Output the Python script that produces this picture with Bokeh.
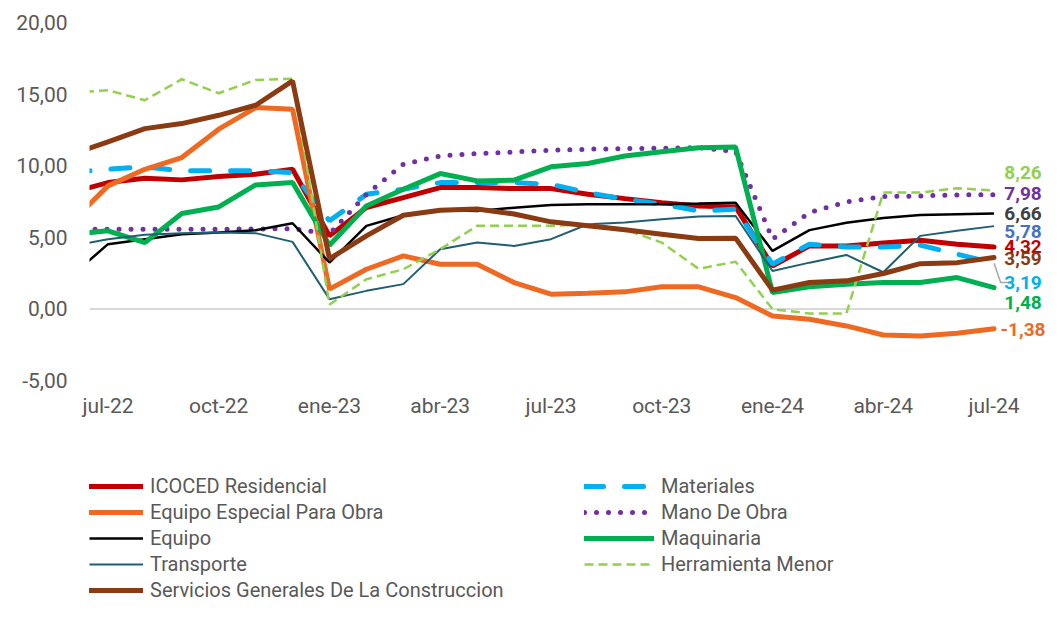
from bokeh.plotting import figure
from bokeh.layouts import column
from bokeh.models import Range1d, FixedTicker, Legend, LegendItem, Label
from bokeh.embed import file_html
from bokeh.resources import INLINE

# ---- data (monthly, jun-22 .. jul-24) ----
months = ["jun-22", "jul-22", "ago-22", "sep-22", "oct-22", "nov-22", "dic-22",
          "ene-23", "feb-23", "mar-23", "abr-23", "may-23", "jun-23", "jul-23",
          "ago-23", "sep-23", "oct-23", "nov-23", "dic-23",
          "ene-24", "feb-24", "mar-24", "abr-24", "may-24", "jun-24", "jul-24"]
x_idx = list(range(-1, 25))

icoced = [8.12, 8.82, 9.12, 9.01, 9.24, 9.40, 9.75, 5.10, 7.08, 7.77, 8.47, 8.47, 8.40,
          8.40, 8.00, 7.70, 7.42, 7.19, 7.12, 3.00, 4.40, 4.40, 4.60, 4.80, 4.52, 4.32]
materiales = [9.53, 9.75, 9.92, 9.64, 9.64, 9.64, 9.52, 6.15, 8.00, 8.36, 8.82, 8.82, 8.82,
              8.70, 8.12, 7.66, 7.31, 6.84, 6.96, 3.12, 4.52, 4.33, 4.33, 4.45, 3.82, 3.19]
especial = [6.03, 8.59, 9.75, 10.57, 12.55, 14.06, 13.94, 1.38, 2.77, 3.70, 3.12, 3.12, 1.84,
            1.03, 1.10, 1.19, 1.54, 1.54, 0.79, -0.49, -0.72, -1.19, -1.82, -1.89, -1.70, -1.38]
mano_obra = [5.56, 5.56, 5.56, 5.56, 5.56, 5.58, 5.60, 5.25, 8.00, 10.10, 10.68, 10.85, 10.96,
             11.08, 11.15, 11.20, 11.22, 11.26, 11.00, 4.87, 6.73, 7.47, 7.84, 7.89, 7.96, 7.98]
equipo = [2.28, 4.52, 4.87, 5.22, 5.33, 5.49, 5.98, 3.24, 5.80, 6.54, 6.91, 6.84, 7.07,
          7.26, 7.31, 7.31, 7.31, 7.36, 7.42, 4.05, 5.50, 6.02, 6.35, 6.56, 6.61, 6.66]
maquinaria = [5.21, 5.45, 4.63, 6.66, 7.12, 8.66, 8.82, 4.45, 7.19, 8.36, 9.45, 8.94, 8.99,
              9.92, 10.15, 10.68, 10.98, 11.25, 11.30, 1.14, 1.54, 1.72, 1.84, 1.84, 2.19, 1.48]
transporte = [4.39, 4.87, 5.17, 5.29, 5.33, 5.29, 4.68, 0.68, 1.26, 1.73, 4.17, 4.63, 4.40,
              4.87, 5.91, 6.03, 6.26, 6.45, 6.49, 2.65, 3.23, 3.77, 2.56, 5.10, 5.45, 5.78]
herramienta = [15.09, 15.27, 14.57, 16.04, 15.06, 15.99, 16.08, 0.30, 2.07, 2.77, 4.17, 5.80, 5.80,
               5.80, 5.91, 5.56, 4.63, 2.80, 3.30, -0.02, -0.32, -0.32, 8.12, 8.12, 8.43, 8.26]
servicios = [10.78, 11.66, 12.59, 12.94, 13.52, 14.22, 15.92, 3.50, 5.10, 6.54, 6.89, 6.98, 6.63,
             6.08, 5.80, 5.52, 5.22, 4.91, 4.94, 1.31, 1.84, 1.96, 2.47, 3.16, 3.23, 3.59]

y_ticks = [-5, 0, 5, 10, 15, 20]
x_ticks = [0, 3, 6, 9, 12, 15, 18, 21, 24]

# ---- styles ----
FONT = "Roboto"
GREY = "#595959"
series = [
    ("ICOCED Residencial", icoced, dict(line_color="#C00000", line_width=5, line_cap="round"), "#C00000"),
    ("Materiales", materiales, dict(line_color="#00B0F0", line_width=5, line_dash="19 21", line_cap="round"), "#00B0F0"),
    ("Equipo Especial Para Obra", especial, dict(line_color="#EE6A22", line_width=5, line_cap="round"), "#EE6A22"),
    ("Mano De Obra", mano_obra, dict(line_color="#7030A0", line_width=5, line_dash="0 12", line_cap="round"), "#7030A0"),
    ("Equipo", equipo, dict(line_color="#000000", line_width=2.5), "#404040"),
    ("Maquinaria", maquinaria, dict(line_color="#00B050", line_width=5, line_cap="round"), "#00B050"),
    ("Transporte", transporte, dict(line_color="#1F5F70", line_width=2), "#4472C4"),
    ("Herramienta Menor", herramienta, dict(line_color="#92D050", line_width=2.5, line_dash="9 5"), "#92D050"),
    ("Servicios Generales De La Construccion", servicios, dict(line_color="#8A3B12", line_width=5, line_cap="round"), "#8A3B12"),
]
# vertical placement (data units) of the end-of-line value labels
end_label_y = {"Herramienta Menor": 9.53, "Mano De Obra": 8.06, "Equipo": 6.66,
               "Transporte": 5.41, "ICOCED Residencial": 4.36,
               "Servicios Generales De La Construccion": 3.52, "Materiales": 1.84,
               "Maquinaria": 0.45, "Equipo Especial Para Obra": -1.44}
label_order = ["ICOCED Residencial", "Servicios Generales De La Construccion", "Herramienta Menor",
               "Mano De Obra", "Equipo", "Transporte", "Materiales", "Maquinaria",
               "Equipo Especial Para Obra"]

W = 1045
PX_PER_MONTH = 36.92
x_start = x_idx[1] - 0.5
x_end = x_idx[-1] + 0.5
p = figure(width=W, height=440, output_backend="svg", toolbar_location=None,
           x_range=Range1d(x_start, x_end + 33 / PX_PER_MONTH), y_range=Range1d(-5, 20),
           min_border_left=89, min_border_right=0, min_border_top=22, min_border_bottom=60,
           background_fill_color="white", border_fill_color="white")
p.outline_line_color = None
p.grid.visible = False

p.xaxis.ticker = FixedTicker(ticks=x_ticks)
p.xaxis.major_label_overrides = {t: months[x_idx.index(t)] for t in x_ticks}
p.yaxis.ticker = FixedTicker(ticks=y_ticks)
p.yaxis.major_label_overrides = {t: f"{t:.2f}".replace(".", ",") for t in y_ticks}
for ax in p.axis:
    ax.axis_line_color = None
    ax.major_tick_line_color = None
    ax.minor_tick_line_color = None
    ax.major_tick_out = 0
    ax.major_tick_in = 0
    ax.major_label_text_font = FONT
    ax.major_label_text_font_size = "21px"
    ax.major_label_text_color = GREY
p.yaxis.major_label_standoff = 22
p.xaxis.major_label_standoff = 13

# zero reference line across the plot area
p.segment(x0=[x_start], y0=[0], x1=[x_end], y1=[0], line_color="#D9D9D9", line_width=2)

for name, vals, style, _ in series:
    p.line(x_idx, vals, **style)

# leader line for the Materiales label
mat_last = materiales[-1]
p.line([x_idx[-1], x_idx[-1] + 0.18, x_end],
       [mat_last, end_label_y["Materiales"], end_label_y["Materiales"]],
       line_color="#A6A6A6", line_width=1.5)

# end labels
colors = {name: c for name, _, _, c in series}
values = {name: v for name, v, _, _ in series}
for name in label_order:
    txt = f"{values[name][-1]:.2f}".replace(".", ",")
    p.add_layout(Label(x=x_idx[-1], y=end_label_y[name], x_offset=29, text=txt,
                       text_align="center", text_baseline="middle",
                       text_font=FONT, text_font_size="19px", text_font_style="bold",
                       text_color=colors[name]))

# ---- legend panel (same series drawn off-view, only their legend swatches show) ----
LH = 162
pl = figure(width=W, height=LH, output_backend="svg", toolbar_location=None,
            x_range=Range1d(1000, 2000), y_range=Range1d(0, 1),
            x_axis_type=None, y_axis_type=None,
            min_border_left=0, min_border_right=0, min_border_top=0, min_border_bottom=0,
            background_fill_color="white", border_fill_color="white")
pl.outline_line_color = None
pl.grid.visible = False

leg_r = {}
for name, vals, style, _ in series:
    leg_r[name] = pl.line(x_idx, vals, **style)

col1 = ["ICOCED Residencial", "Equipo Especial Para Obra", "Equipo", "Transporte",
        "Servicios Generales De La Construccion"]
col2 = ["Materiales", "Mano De Obra", "Maquinaria", "Herramienta Menor"]

def make_legend(names, loc, gw):
    return Legend(items=[LegendItem(label=n, renderers=[leg_r[n]]) for n in names],
                  location=loc, orientation="vertical",
                  glyph_width=gw, glyph_height=24, label_height=24, label_standoff=7,
                  spacing=2, padding=0, margin=0,
                  border_line_color=None, background_fill_alpha=0,
                  label_text_font=FONT, label_text_font_size="20px", label_text_color=GREY)

pl.add_layout(make_legend(col1, (0, 0), 54))
pl.add_layout(make_legend(col2, (495, 26), 70))

layout = column(p, pl, spacing=0)
open("out.html", "w").write(file_html(layout, INLINE))
